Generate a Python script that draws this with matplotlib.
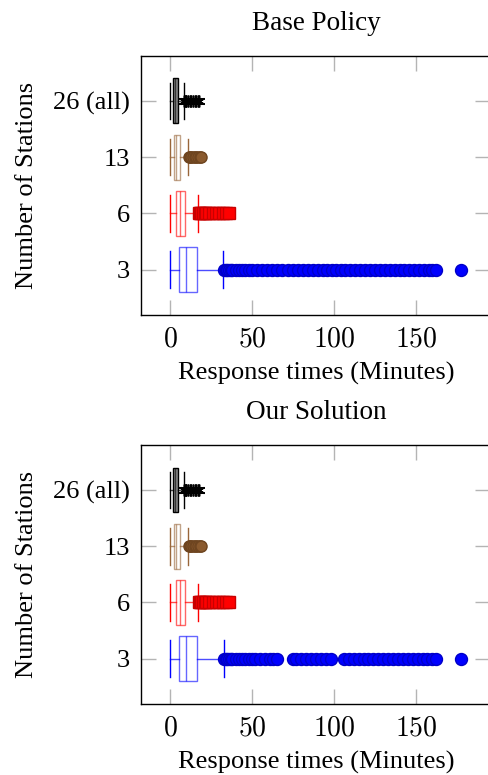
import numpy as np
import matplotlib.pyplot as plt

plt.rcParams['font.family'] = ['Liberation Serif', 'DejaVu Serif']
plt.rcParams['mathtext.fontset'] = 'cm'

# Number of stations (bottom to top)
labels = ['3', '6', '13', '26 (all)']
positions = [1, 2, 3, 4]

# box statistics (minutes): whislo, q1, med, q3, whishi
base_stats = [
    [0.2, 5.7, 10.0, 16.7, 32.3],
    [0.2, 3.7, 6.3, 9.4, 17.3],
    [0.2, 2.4, 3.9, 6.3, 10.8],
    [0.2, 1.8, 3.3, 4.9, 8.5],
]
ours_stats = [
    [0.2, 5.7, 10.0, 16.7, 32.6],
    [0.2, 3.7, 6.3, 9.4, 17.1],
    [0.2, 2.4, 3.9, 6.3, 10.8],
    [0.2, 1.8, 3.3, 4.9, 8.5],
]

# outliers
base_fl3 = [33, 34, 35, 36, 37, 38, 40, 42, 44, 46, 48, 50, 53, 56, 59, 62, 65, 68, 72, 75,
            78, 81, 84, 87, 90, 93, 96, 99, 101.5, 104, 107, 110, 113, 116, 119, 122, 125,
            128, 131, 134, 137, 140, 143, 146, 149, 152, 155, 158, 160, 162, 177.7]
ours_fl3 = [33, 34, 35, 36, 37, 38, 40, 42, 44, 46, 48, 50, 52, 55, 58, 61, 63, 65.3,
            75, 77, 80, 83, 86, 89, 92, 95, 98.2, 106.3, 109, 112, 115, 118, 121,
            124, 127, 130, 133, 136, 139, 142, 145, 148, 151, 154, 157, 160, 162, 177.7]
fl6 = [17.6, 18, 19, 20, 21, 22, 24, 26, 28, 30, 32, 34, 35.8]
fl13 = [11.6, 12, 13, 14, 15, 16, 17, 18, 18.9]
fl26 = [8.5, 9, 9.5, 10, 11, 12, 13, 14, 15, 16, 17, 17.5]

colors = ['#0000ff', '#ff0000', '#99663a', '#000000']
flier_style = [
    dict(marker='o', markersize=8.6, markerfacecolor='#0000ff', markeredgecolor='#0000c8', linestyle='none'),
    dict(marker='s', markersize=8.4, markerfacecolor='#ff0000', markeredgecolor='#c80000', linestyle='none'),
    dict(marker='o', markersize=8.0, markerfacecolor='#8a5a2e', markeredgecolor='#6e4520', linestyle='none'),
    dict(marker=(6, 2, 0), markersize=8.5, markeredgecolor='#000000', markeredgewidth=1.1, linestyle='none'),
]


def make_stats(rows, fliers):
    out = []
    for r, f in zip(rows, fliers):
        out.append(dict(whislo=r[0], q1=r[1], med=r[2], q3=r[3], whishi=r[4], fliers=np.array(f)))
    return out


def draw(ax, stats, title):
    for i, st in enumerate(stats):
        c = colors[i]
        gray = (i == 3)
        ax.bxp([st], positions=[positions[i]], vert=False, widths=0.8, capwidths=0.65,
               patch_artist=True, manage_ticks=False,
               boxprops=dict(facecolor='#888888' if gray else 'white', edgecolor=c,
                             linewidth=1.0, alpha=1.0 if gray else 0.6),
               medianprops=dict(color=c, linewidth=1.0, alpha=0.6),
               whiskerprops=dict(color=c, linewidth=1.0, alpha=0.7),
               capprops=dict(color=c, linewidth=1.0),
               flierprops=flier_style[i])
    ax.set_xlim(-17.55, 195.45)
    ax.set_ylim(0.2, 4.8)
    ax.set_xticks([0, 50, 100, 150])
    ax.set_xticklabels(['$0$', '$50$', '$100$', '$150$'])
    ax.set_yticks(positions)
    ax.set_yticklabels(labels)
    ax.tick_params(direction='in', length=10.5, width=1.0, color='#b4b4b4',
                   top=True, right=True, labelsize=19, pad=8)
    ax.tick_params(axis='x', labelsize=20, pad=9)
    for s in ax.spines.values():
        s.set_linewidth(1.0)
    ax.set_title(title, fontsize=19.5, pad=19)
    ax.set_xlabel('Response times (Minutes)', fontsize=19, labelpad=7)
    ax.set_ylabel('Number of Stations', fontsize=19, labelpad=11)


fig = plt.figure(figsize=(4.89, 7.75), dpi=100)
ax1 = fig.add_axes([0.289, 0.594, 0.714, 0.3338])
ax2 = fig.add_axes([0.289, 0.092, 0.714, 0.3338])

draw(ax1, make_stats(base_stats, [base_fl3, fl6, fl13, fl26]), 'Base Policy')
draw(ax2, make_stats(ours_stats, [ours_fl3, fl6, fl13, fl26]), 'Our Solution')

fig.savefig('out.png', dpi=100)
